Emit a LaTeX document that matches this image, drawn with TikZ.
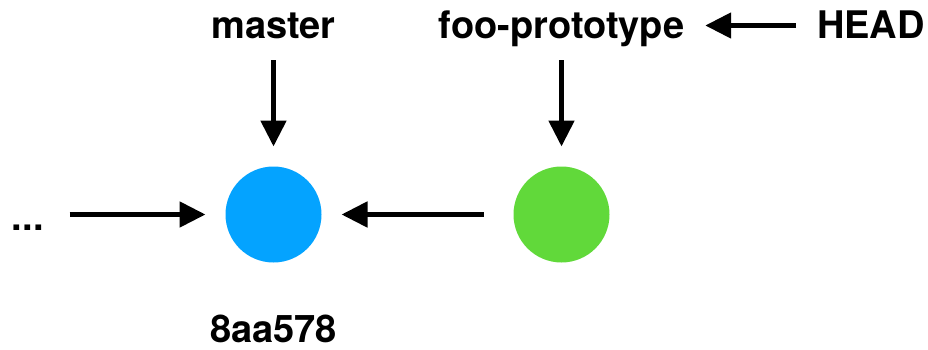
\documentclass[tikz,border=0pt]{standalone}
\usepackage{fontspec}
\setmainfont{TeX Gyre Heros}
\usepackage{tikz}
\usetikzlibrary{positioning,arrows.meta}
\definecolor{commitblue}{RGB}{4, 163, 255}
\definecolor{commitgreen}{RGB}{97, 217, 58}

\tikzset{
  commit/.style={circle, minimum size=96pt, inner sep=0pt, outer sep=20pt},
  ref/.style={font=\fontsize{38}{38}\selectfont\bfseries, inner sep=0pt, outer sep=21pt, text height=27pt, text depth=0pt},
  ptr/.style={-{Triangle[length=26pt, width=25pt]}, line width=5pt}
}

\begin{document}
\begin{tikzpicture}[x=1pt, y=1pt]
\useasboundingbox (0,0) rectangle (928,349);

\node[commit, fill=commitblue] (c1) at (273.5,134.5) {};
\node[commit, fill=commitgreen] (c2) at (561.5,134.5) {};
\node[ref, anchor=base west, text height=31pt] (dots) at (-9,119) {...};

\node[ref, anchor=base] (master) at (273.5,310) {master};
\node[ref, anchor=base] (foo) at (561.5,310) {foo-prototype};
\node[ref, anchor=base] (head) at (871,310) {HEAD};
\node[ref, anchor=base, outer sep=0pt, text depth=1pt] (hash) at (273.5,7) {8aa578};

\draw[ptr, shorten <=5pt] (dots) -- (c1);
\draw[ptr, shorten <=10pt] (c2) -- (c1);
\draw[ptr] (master) -- (c1);
\draw[ptr] (foo) -- (c2);
\draw[ptr] (head) -- (foo);
\end{tikzpicture}
\end{document}
